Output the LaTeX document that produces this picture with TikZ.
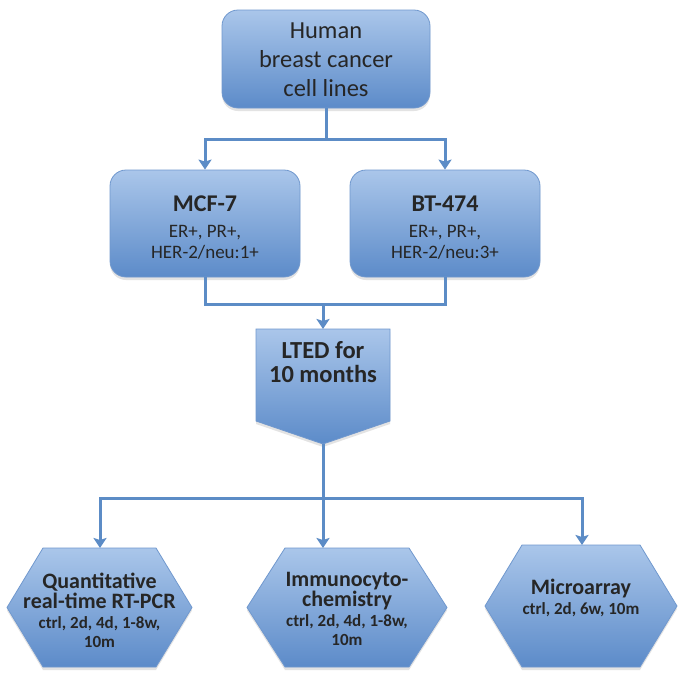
\documentclass[tikz,border=0pt]{standalone}
\usepackage{fontspec}
\setmainfont{Carlito}
\usetikzlibrary{shadows,arrows.meta}
\definecolor{boxtop}{RGB}{170,198,234}
\definecolor{boxbot}{RGB}{92,139,201}
\definecolor{boxline}{RGB}{112,152,206}
\definecolor{conncol}{RGB}{92,140,198}
\definecolor{txt}{RGB}{38,38,38}
\newcommand\hexshape[5]{%
  \path[boxstyle] ({#1-#3},#2) -- ({#1-#3+#5},{#2-#4}) -- ({#1+#3-#5},{#2-#4})
    -- ({#1+#3},#2) -- ({#1+#3-#5},{#2+#4}) -- ({#1-#3+#5},{#2+#4}) -- cycle;}
\begin{document}
\begin{tikzpicture}[x=1pt,y=-1pt,
  boxstyle/.style={top color=boxtop, bottom color=boxbot, draw=boxline, line width=0.8pt,
    drop shadow={opacity=0.22, shadow xshift=0pt, shadow yshift=-3pt}, text=txt, align=center},
  rbox/.style={boxstyle, rectangle, rounded corners=16pt, inner sep=0pt},
  txtnode/.style={text=txt, align=center, inner sep=0pt},
  conn/.style={draw=conncol, line width=3pt},
  arr/.style={conn, -{Stealth[width=13pt,length=10pt,inset=2pt]}},
]
\useasboundingbox[fill=white] (0,0) rectangle (685,683);

% top box
\node[rbox, minimum width=208pt, minimum height=98pt] (top) at (326,59) {};
\node[txtnode, font=\fontsize{24.5}{29}\selectfont] (topt) at (326,60)
  {Human\\breast cancer\\cell lines};

% cell lines
\node[rbox, minimum width=190pt, minimum height=107pt] (mcf) at (205,223.5) {};
\node[txtnode, font=\fontsize{19}{21}\selectfont] (mcft) at (205,228)
  {{\bfseries\fontsize{24}{26}\selectfont MCF-7}\\[5pt]ER+, PR+,\\HER-2/neu:1+};
\node[rbox, minimum width=190pt, minimum height=107pt] (bt) at (445,223.5) {};
\node[txtnode, font=\fontsize{19}{21}\selectfont] (btt) at (445,228)
  {{\bfseries\fontsize{24}{26}\selectfont BT-474}\\[5pt]ER+, PR+,\\HER-2/neu:3+};

% LTED pentagon
\coordinate (ltedtop) at (323,329);
\coordinate (ltedtip) at (323,444);
\path[boxstyle] (256,329) -- (390,329) -- (390,421) -- (ltedtip) -- (256,421) -- cycle;
\node[txtnode, font=\bfseries\fontsize{24.5}{23.5}\selectfont] (lted) at (323,362)
  {LTED for\\10 months};

% hexagons
\hexshape{99.5}{607.5}{92.5}{59.5}{36}
\coordinate (qpcrtop) at (100,548);
\node[txtnode, font=\bfseries\fontsize{17}{20}\selectfont] (qpcr) at (99.5,610)
  {{\fontsize{22}{21}\selectfont Quantitative}\\{\fontsize{22}{21}\selectfont real-time RT-PCR}\\ctrl, 2d, 4d, 1-8w,\\[-1pt]10m};
\hexshape{347}{607.5}{100}{59.5}{38}
\coordinate (icctop) at (323,548);
\node[txtnode, font=\bfseries\fontsize{17}{20}\selectfont] (icc) at (347,608.5)
  {{\fontsize{22}{21}\selectfont Immunocyto-}\\{\fontsize{22}{21}\selectfont chemistry}\\ctrl, 2d, 4d, 1-8w,\\[-1pt]10m};
\hexshape{581}{606}{96}{61}{37}
\coordinate (microtop) at (582,545);
\node[txtnode, font=\bfseries\fontsize{17}{20}\selectfont] (micro) at (581,598)
  {{\fontsize{22}{21}\selectfont Microarray}\\ctrl, 2d, 6w, 10m};

% connectors
\coordinate (j1) at (326,139);
\coordinate (j2) at (323,304);
\coordinate (j3) at (323,498);
\draw[conn] (top.south) -- (j1);
\draw[arr] (j1) -| (mcf.north);
\draw[arr] (j1) -| (bt.north);
\draw[conn] (mcf.south) |- (j2);
\draw[conn] (bt.south) |- (j2);
\draw[arr] (j2) -- (ltedtop);
\draw[conn] (ltedtip) -- (j3);
\draw[arr] (j3) -| (qpcrtop);
\draw[arr] (j3) -- (icctop);
\draw[arr] (j3) -| (microtop);
\end{tikzpicture}
\end{document}
